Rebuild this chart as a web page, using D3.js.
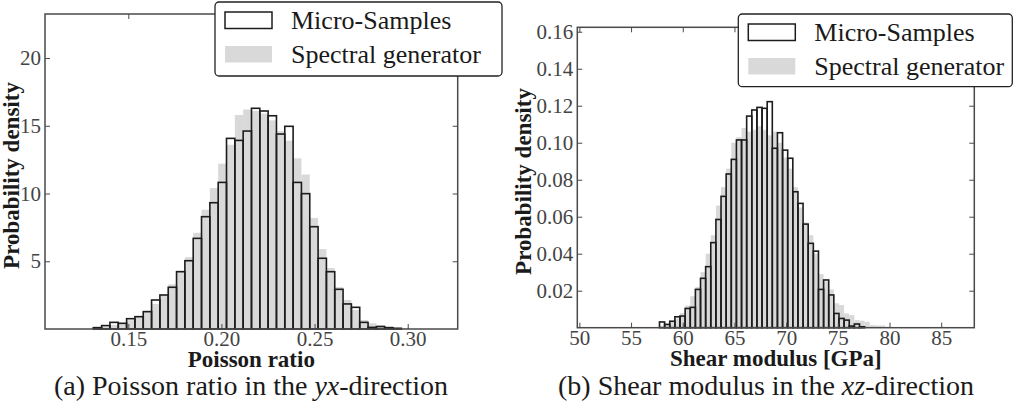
<!DOCTYPE html>
<html>
<head>
<meta charset="utf-8">
<script src="https://cdn.jsdelivr.net/npm/d3@7"></script>
<style>
  body { margin: 0; background: #fff; }
  svg text { font-family: "Liberation Serif", "DejaVu Serif", serif; fill: #1a1a1a; }
</style>
</head>
<body>
<svg id="fig" width="1015" height="410"></svg>
<script>
//// DATA ////////////////////////////////////////////////////////////////////////
// Histogram densities, one value per bin (bins start at *Start, width *Width).
var poissonStart = 0.1312, poissonWidth = 0.00447;
var poissonMicro = [0.1, 0.25, 0.49, 0.42, 0.76, 0.91, 1.28, 2.14, 2.51, 3.08, 4.23, 5.04, 6.69,
                    8.29, 9.32, 10.82, 14.07, 13.92, 14.61, 16.29, 16.09, 15.74, 14.39, 14.96, 10.82,
                    9.99, 7.55, 5.22, 4.23, 2.93, 1.85, 1.6, 0.49, 0.12, 0.18, 0.1, 0.05];
var poissonSpectral = [0.05, 0.15, 0.3, 0.45, 0.65, 0.95, 1.35, 1.85, 2.5, 3.3, 4.3, 5.3, 7.1,
                       8.8, 10.4, 12.2, 13.6, 15.8, 16.2, 16.1, 15.9, 15.4, 14.6, 13.9, 12.6,
                       11.4, 8.2, 5.9, 4.5, 3.1, 2.14, 1.4, 0.66, 0.42, 0.3, 0.17, 0.1, 0.05];

var shearStart = 57.75, shearWidth = 0.496;
var shearMicro = [0.0031, 0.0018, 0.0035, 0.0059, 0.0063, 0.0104, 0.011, 0.0207, 0.0267, 0.033,
                  0.046, 0.0585, 0.071, 0.0831, 0.091, 0.1015, 0.1015, 0.1144, 0.1177, 0.1191,
                  0.1186, 0.1222, 0.097, 0.1054, 0.096, 0.0916, 0.0735, 0.0672, 0.056, 0.0456,
                  0.0414, 0.0207, 0.0258, 0.0177, 0.0077, 0.005, 0.0041, 0.0009, 0.002, 0.0005];
var shearSpectral = [0.001, 0.0015, 0.003, 0.005, 0.008, 0.012, 0.017, 0.022, 0.03, 0.04,
                     0.05, 0.066, 0.076, 0.086, 0.1, 0.103, 0.108, 0.106, 0.107, 0.109,
                     0.107, 0.104, 0.106, 0.1, 0.092, 0.086, 0.076, 0.065, 0.057, 0.05,
                     0.04, 0.029, 0.025, 0.0207, 0.0132, 0.0123, 0.0077, 0.0068, 0.0041, 0.0038,
                     0.0032, 0.0014, 0.0012, 0.0012, 0.0005];

var poissonXTicks = [0.15, 0.20, 0.25, 0.30];
var poissonYTicks = [5, 10, 15, 20];
var shearXTicks = [50, 55, 60, 65, 70, 75, 80, 85];
var shearYTicks = [0.02, 0.04, 0.06, 0.08, 0.10, 0.12, 0.14, 0.16];

var legendLabels = ["Micro-Samples", "Spectral generator"];


//// SETTINGS ////////////////////////////////////////////////////////////////////
var serif = "'Liberation Serif', 'DejaVu Serif', serif";
var spineColor = "#4a4a4a",
    barEdge = "#1c1c1c",
    grayFill = "#d9d9d9",
    tickFont = 21,
    labelFont = 23,
    legendFont = 26,
    captionFont = 28;

var svg = d3.select("#fig");

function drawPanel(p) {
    var x = d3.scaleLinear().domain(p.xDomain).range([p.left, p.right]);
    var y = d3.scaleLinear().domain(p.yDomain).range([p.bottom, p.top]);
    var g = svg.append("g").style("font-family", serif);

    function bins(values) {
        return values.map(function(d, i) {
            return { x0: p.start + i * p.width, x1: p.start + (i + 1) * p.width, v: d };
        });
    }

    // Spectral generator: filled gray bars underneath.
    g.append("g").selectAll("rect")
        .data(bins(p.spectral))
        .join("rect")
        .attr("x", function(d) { return x(d.x0); })
        .attr("width", function(d) { return x(d.x1) - x(d.x0); })
        .attr("y", function(d) { return y(d.v); })
        .attr("height", function(d) { return y(0) - y(d.v); })
        .attr("fill", grayFill);

    // Micro-samples: open outlined bars on top.
    g.append("g").selectAll("rect")
        .data(bins(p.micro))
        .join("rect")
        .attr("x", function(d) { return x(d.x0); })
        .attr("width", function(d) { return x(d.x1) - x(d.x0); })
        .attr("y", function(d) { return y(d.v); })
        .attr("height", function(d) { return y(0) - y(d.v); })
        .attr("fill", "none")
        .attr("stroke", barEdge)
        .attr("stroke-width", 1.6);

    // Axes with inward ticks on all four sides.
    var ax = [
        { a: d3.axisBottom(x).tickValues(p.xTicks).tickFormat(p.xFormat).tickPadding(2), t: "translate(0," + p.bottom + ")" },
        { a: d3.axisTop(x).tickValues(p.xTicks).tickFormat(""), t: "translate(0," + p.top + ")" },
        { a: d3.axisLeft(y).tickValues(p.yTicks).tickFormat(p.yFormat).tickPadding(4), t: "translate(" + p.left + ",0)" },
        { a: d3.axisRight(y).tickValues(p.yTicks).tickFormat(""), t: "translate(" + p.right + ",0)" }
    ];
    ax.forEach(function(o) {
        var sel = g.append("g").attr("transform", o.t)
            .call(o.a.tickSizeInner(-5).tickSizeOuter(0))
            .attr("font-family", null);
        sel.select(".domain").remove();
        sel.selectAll("line").attr("stroke", spineColor).attr("stroke-width", 1);
        sel.selectAll("text")
            .style("font-family", serif)
            .style("font-size", tickFont + "px")
            .style("fill", "#444");
    });

    g.append("rect")
        .attr("x", p.left).attr("y", p.top)
        .attr("width", p.right - p.left).attr("height", p.bottom - p.top)
        .attr("fill", "none").attr("stroke", spineColor).attr("stroke-width", 1.5);

    // Axis labels.
    g.append("text")
        .attr("x", (p.left + p.right) / 2).attr("y", p.bottom + 38)
        .attr("text-anchor", "middle")
        .style("font-size", labelFont + "px").style("font-weight", "bold")
        .text(p.xLabel);

    g.append("text")
        .attr("transform", "translate(" + p.yLabelX + "," + ((p.top + p.bottom) / 2 + 4) + ") rotate(-90)")
        .attr("text-anchor", "middle")
        .style("font-size", labelFont + "px").style("font-weight", "bold")
        .text("Probability density");

    // Caption below the panel.
    var cap = g.append("text")
        .attr("x", p.captionX).attr("y", 395)
        .attr("text-anchor", "middle")
        .style("font-size", captionFont + "px");
    cap.append("tspan").text(p.caption[0]);
    cap.append("tspan").style("font-style", "italic").text(p.caption[1]);
    cap.append("tspan").text(p.caption[2]);

    // Legend box.
    var lg = g.append("g").attr("transform", "translate(" + p.legend.x + "," + p.legend.y + ")");
    lg.append("rect")
        .attr("width", p.legend.w).attr("height", p.legend.h)
        .attr("rx", 4)
        .attr("fill", "#fff").attr("stroke", "#222").attr("stroke-width", 1.3);
    legendLabels.forEach(function(label, i) {
        var row = lg.append("g").attr("transform", "translate(0," + (i * 34) + ")");
        row.append("rect")
            .attr("x", 10).attr("y", 10).attr("width", 47).attr("height", 16.5)
            .attr("fill", i === 0 ? "#fff" : grayFill)
            .attr("stroke", i === 0 ? barEdge : "none")
            .attr("stroke-width", 1.5);
        row.append("text")
            .attr("x", 76).attr("y", 26.5)
            .style("font-size", legendFont + "px")
            .text(label);
    });
}

drawPanel({
    left: 45, right: 457.7, top: 14, bottom: 329,
    xDomain: [0.10528, 0.32684], yDomain: [0, 23.25],
    start: poissonStart, width: poissonWidth,
    micro: poissonMicro, spectral: poissonSpectral,
    xTicks: poissonXTicks, yTicks: poissonYTicks,
    xFormat: d3.format(".2f"), yFormat: d3.format("d"),
    xLabel: "Poisson ratio", yLabelX: 19,
    caption: ["(a) Poisson ratio in the ", "yx", "-direction"], captionX: 251,
    legend: { x: 215, y: 2, w: 287, h: 74 }
});

drawPanel({
    left: 577.3, right: 974.3, top: 27.3, bottom: 327.7,
    xDomain: [49.8, 88.2], yDomain: [0, 0.1624],
    start: shearStart, width: shearWidth,
    micro: shearMicro, spectral: shearSpectral,
    xTicks: shearXTicks, yTicks: shearYTicks,
    xFormat: d3.format("d"), yFormat: d3.format(".2f"),
    xLabel: "Shear modulus [GPa]", yLabelX: 531,
    caption: ["(b) Shear modulus in the ", "xz", "-direction"], captionX: 766,
    legend: { x: 738.3, y: 14, w: 274, h: 72.7 }
});
</script>
</body>
</html>
